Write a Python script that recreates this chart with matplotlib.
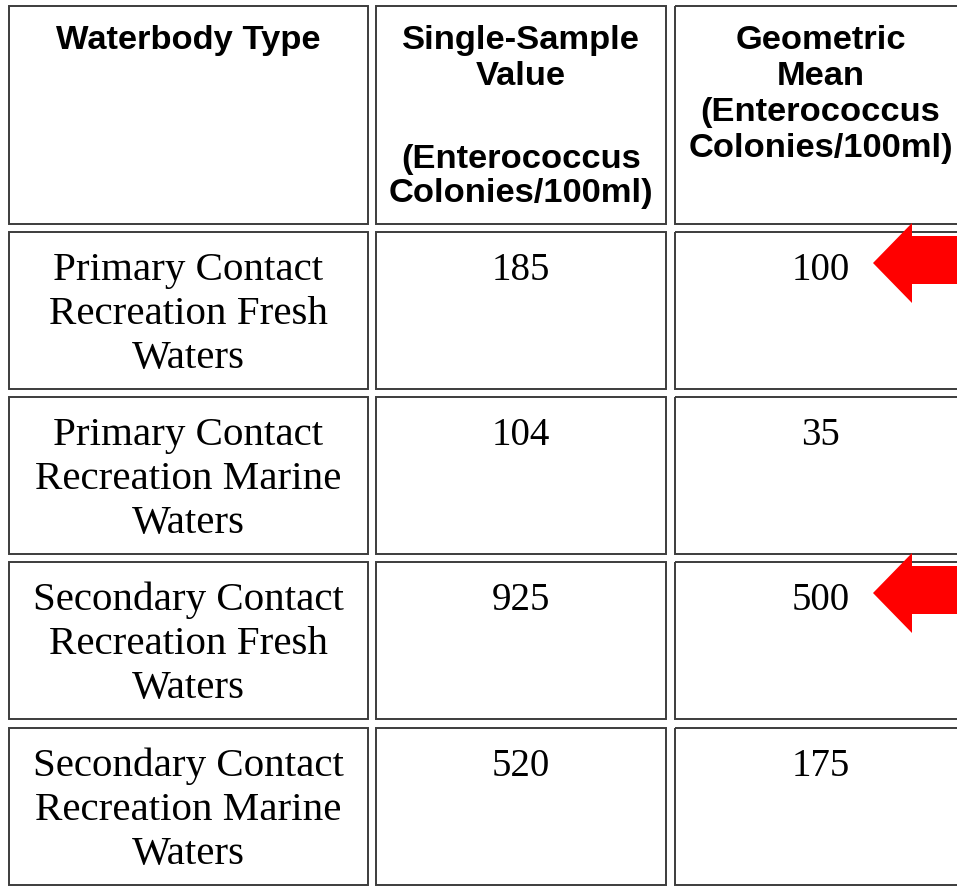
import matplotlib.pyplot as plt
from matplotlib.patches import Rectangle, Polygon

# table contents
headers = [
    ["Waterbody Type"],
    ["Single-Sample", "Value", "(Enterococcus", "Colonies/100ml)"],
    ["Geometric", "Mean", "(Enterococcus", "Colonies/100ml)"],
]
waterbody = [
    ["Primary Contact", "Recreation Fresh", "Waters"],
    ["Primary Contact", "Recreation Marine", "Waters"],
    ["Secondary Contact", "Recreation Fresh", "Waters"],
    ["Secondary Contact", "Recreation Marine", "Waters"],
]
single_sample = [185, 104, 925, 520]
geo_mean = [100, 35, 500, 175]
flagged = [True, False, True, False]  # rows marked with a red arrow

# layout (pixels)
W, H = 957, 890
col_x = [(9, 368), (376, 666), (675, 966)]
head_y = (6, 224)
row_top = [232, 397, 562, 728]
row_h = 157
header_base = [[49], [49, 85, 168, 202], [49, 85, 121, 157]]
line_off = [48, 92, 136]

fig = plt.figure(figsize=(W / 100, H / 100), dpi=100)
ax = fig.add_axes([0, 0, 1, 1])
ax.set_xlim(0, W)
ax.set_ylim(H, 0)
ax.axis('off')

edge = '#3c3c3c'

def cell(x0, x1, y0, y1):
    ax.add_patch(Rectangle((x0, y0), x1 - x0, y1 - y0, fill=False,
                           edgecolor=edge, linewidth=1.4, clip_on=False))

# header row
for c, (x0, x1) in enumerate(col_x):
    cell(x0, x1, head_y[0], head_y[1])
    for line, yb in zip(headers[c], header_base[c]):
        ax.text((x0 + x1) / 2, yb, line, ha='center', va='baseline',
                family='Liberation Sans', weight='bold', fontsize=24.8)

# body rows
for r, top in enumerate(row_top):
    for (x0, x1) in col_x:
        cell(x0, x1, top, top + row_h)
    cx = [(x0 + x1) / 2 for x0, x1 in col_x]
    for k, line in enumerate(waterbody[r]):
        ax.text(cx[0], top + line_off[k], line, ha='center', va='baseline',
                family='Liberation Serif', fontsize=29.5)
    ax.text(cx[1], top + line_off[0], str(single_sample[r]), ha='center',
            va='baseline', family='Liberation Serif', fontsize=28)
    ax.text(cx[2], top + line_off[0], str(geo_mean[r]), ha='center',
            va='baseline', family='Liberation Serif', fontsize=28)
    if flagged[r]:
        yc = top + 31
        pts = [(873, yc), (912, yc - 40), (912, yc - 27), (W + 5, yc - 27),
               (W + 5, yc + 21), (912, yc + 21), (912, yc + 40)]
        ax.add_patch(Polygon(pts, closed=True, facecolor='#ff0000',
                             edgecolor='none', zorder=5))

fig.savefig('out.png', dpi=100)
